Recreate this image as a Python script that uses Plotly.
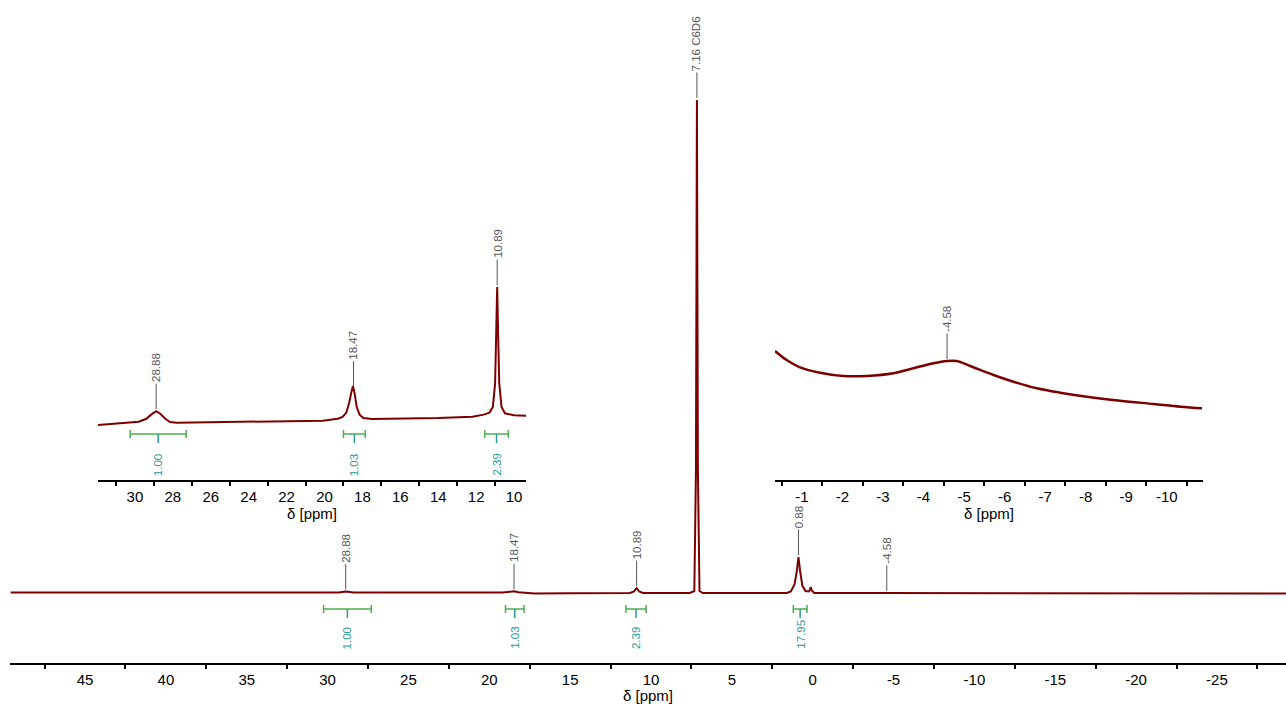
import numpy as np
import plotly.graph_objects as go

W, H = 1286, 704

# ---------------- data ----------------
# main 1H spectrum (ppm, intensity; C6D6 peak = 100)
main_ppm = [49.6, 30.5, 29.3, 28.88, 28.4, 19.2, 18.7, 18.47, 18.2, 17.8, 17.2, 15.0,
            11.3, 11.05, 10.89, 10.73, 10.5, 7.6, 7.32, 7.22, 7.16, 7.10, 7.0, 6.8,
            1.6, 1.35, 1.24, 1.12, 0.98, 0.88, 0.78, 0.64, 0.45, 0.25, 0.18, 0.12,
            0.06, -0.1, -4.58, -29.3]
main_int = [0.1, 0.1, 0.1, 0.3, 0.1, 0.1, 0.2, 0.35, 0.15, 0.0, -0.12, -0.05,
            0.0, 0.3, 1.0, 0.3, 0.0, 0.0, 0.4, 25.0, 100.0, 25.0, 0.4, 0.0,
            0.0, 0.3, 1.0, 1.8, 4.5, 7.3, 4.5, 1.5, 0.4, 0.3, 0.6, 1.2,
            0.5, 0.0, 0.0, -0.1]

# inset 1: 31.9 .. 9.4 ppm (expanded)
inset1_ppm = [31.95, 30.8, 30.2, 29.8, 29.4, 29.15, 28.88, 28.65, 28.4, 28.15, 27.8,
              24.0, 20.1, 19.3, 19.05, 18.85, 18.7, 18.58, 18.5, 18.4, 18.3, 18.15,
              17.95, 17.5, 14.0, 12.2, 11.6, 11.3, 11.12, 11.0, 10.94, 10.89, 10.84,
              10.78, 10.66, 10.48, 10.0, 9.37]
inset1_int = [0.0, 0.01, 0.017, 0.024, 0.045, 0.075, 0.10, 0.08, 0.045, 0.022, 0.017,
              0.022, 0.031, 0.045, 0.058, 0.09, 0.16, 0.24, 0.283, 0.22, 0.13, 0.075,
              0.05, 0.043, 0.05, 0.06, 0.075, 0.09, 0.13, 0.3, 0.65, 1.0, 0.65,
              0.3, 0.13, 0.085, 0.07, 0.067]

# inset 2: -0.3 .. -10.9 ppm (expanded, broad hump)
inset2_ppm = [-0.335, -0.623, -0.952, -1.446, -2.021, -2.599, -3.256, -3.749, -4.243,
              -4.574, -4.821, -5.149, -5.725, -6.219, -6.796, -7.372, -8.031, -8.853,
              -9.675, -10.335, -10.87]
inset2_int = [1.29, 1.20, 1.127, 1.073, 1.04, 1.04, 1.067, 1.117, 1.167,
              1.19, 1.19, 1.14, 1.05, 0.983, 0.917, 0.873, 0.833, 0.793,
              0.76, 0.733, 0.717]

main_ticks = [45, 40, 35, 30, 25, 20, 15, 10, 5, 0, -5, -10, -15, -20, -25]
inset1_ticks = [30, 28, 26, 24, 22, 20, 18, 16, 14, 12, 10]
inset2_ticks = [-1, -2, -3, -4, -5, -6, -7, -8, -9, -10]

main_peak_ppm = [28.88, 18.47, 10.89, 7.16, 0.88, -4.58]
main_peak_txt = ["28.88", "18.47", "10.89", "7.16 C6D6", "0.88", "-4.58"]
inset1_peak_ppm = [28.88, 18.47, 10.89]
inset1_peak_txt = ["28.88", "18.47", "10.89"]
inset2_peak_ppm = [-4.58]
inset2_peak_txt = ["-4.58"]

integral_from = [30.25, 19.0, 11.55, 1.2]
integral_to = [27.3, 17.85, 10.3, 0.35]
integral_val = ["1.00", "1.03", "2.39", "17.95"]

# ---------------- style ----------------
RED = "#7d0000"
PEAKC = "#555555"
INTC = "#2b9a9a"
BRC = "#4caf50"
FONT = "Liberation Sans, Arial, Helvetica, sans-serif"


def fx(px):
    return px / W


def fy(py):
    return 1 - py / H


def tw(s, size=11.5):
    wd = {".": 0.278, "-": 0.333, " ": 0.278, "C": 0.722, "D": 0.722}
    return sum(wd.get(c, 0.556) for c in s) * size


fig = go.Figure()
fig.add_trace(go.Scatter(x=main_ppm, y=main_int, mode="lines",
                         line=dict(color=RED, width=2), xaxis="x", yaxis="y",
                         hoverinfo="skip"))
fig.add_trace(go.Scatter(x=inset1_ppm, y=inset1_int, mode="lines",
                         line=dict(color=RED, width=2), xaxis="x2", yaxis="y2",
                         hoverinfo="skip"))
fig.add_trace(go.Scatter(x=inset2_ppm, y=inset2_int, mode="lines",
                         line=dict(color=RED, width=2.5, shape="spline"),
                         xaxis="x3", yaxis="y3", hoverinfo="skip"))

annotations = []
shapes = []

LEADER = 27
STANDOFF = 2


def peak_labels(ppms, txts, xs, ys, xr, yr):
    xp = np.array(xs)[::-1]
    fp = np.array(ys)[::-1]
    for p, t in zip(ppms, txts):
        yv = float(np.interp(p, xp, fp))
        annotations.append(dict(
            x=p, y=yv, xref=xr, yref=yr, text=t, textangle=-90,
            showarrow=True, arrowhead=0, arrowwidth=1, arrowcolor="#555555",
            ax=0, ay=-(STANDOFF + LEADER + tw(t) / 2), axref="pixel", ayref="pixel",
            standoff=STANDOFF, font=dict(size=11.5, color=PEAKC, family=FONT)))


peak_labels(main_peak_ppm, main_peak_txt, main_ppm, main_int, "x", "y")
peak_labels(inset1_peak_ppm, inset1_peak_txt, inset1_ppm, inset1_int, "x2", "y2")
peak_labels(inset2_peak_ppm, inset2_peak_txt, inset2_ppm, inset2_int, "x3", "y3")


def integrals(n, xr, ybar, ylab):
    for a, b, v in list(zip(integral_from, integral_to, integral_val))[:n]:
        mid = (a + b) / 2
        shapes.append(dict(type="line", xref=xr, yref="paper", x0=a, x1=b,
                           y0=fy(ybar), y1=fy(ybar), line=dict(color=BRC, width=1.5)))
        for e in (a, b):
            shapes.append(dict(type="line", xref=xr, yref="paper", x0=e, x1=e,
                               y0=fy(ybar - 4), y1=fy(ybar + 4),
                               line=dict(color=BRC, width=1.5)))
        shapes.append(dict(type="line", xref=xr, yref="paper", x0=mid, x1=mid,
                           y0=fy(ybar), y1=fy(ybar + 9), line=dict(color=INTC, width=1.5)))
        annotations.append(dict(x=mid, y=fy(ylab), xref=xr, yref="paper", text=v,
                                textangle=-90, showarrow=False, yanchor="bottom",
                                xanchor="center",
                                font=dict(size=11.5, color=INTC, family=FONT)))


integrals(4, "x", 609, 651)
integrals(3, "x2", 434, 478)


def xaxis_style(domain, rng, ticks, minor_dtick, minor_tick0, anchor):
    return dict(domain=domain, range=rng, anchor=anchor, showgrid=False, zeroline=False,
                showline=True, linecolor="black", linewidth=2,
                tickmode="array", tickvals=ticks, ticktext=[f"{t:g}" for t in ticks],
                ticks="outside", ticklen=2, tickcolor="rgba(0,0,0,0)",
                tickfont=dict(size=15, color="black", family=FONT),
                minor=dict(ticks="outside", ticklen=4, tickwidth=1.5, tickcolor="black",
                           dtick=minor_dtick, tick0=minor_tick0, showgrid=False),
                title=dict(text="δ [ppm]", standoff=0,
                           font=dict(size=15, color="black", family=FONT)),
                automargin=False, fixedrange=True)


hidden_y = dict(visible=False, showgrid=False, zeroline=False, fixedrange=True)

fig.update_layout(
    width=W, height=H,
    margin=dict(l=0, r=0, t=0, b=0),
    paper_bgcolor="white", plot_bgcolor="rgba(0,0,0,0)",
    showlegend=False, hovermode=False,
    xaxis=xaxis_style([fx(10), 1], [49.64, -29.27], main_ticks, 5, 2.5, "y"),
    yaxis=dict(domain=[fy(663), 1], range=[-14.2, 120.28], **hidden_y),
    xaxis2=xaxis_style([fx(98), fx(526)], [31.95, 9.37], inset1_ticks, 2, 1, "y2"),
    yaxis2=dict(domain=[fy(480), fy(230)], range=[-(480 - 425) / 138, (425 - 230) / 138],
                anchor="x2", **hidden_y),
    xaxis3=xaxis_style([fx(775), fx(1203)], [-0.335, -10.895], inset2_ticks, 1, 0.5, "y3"),
    yaxis3=dict(domain=[fy(480), fy(230)], range=[0, 2.5], anchor="x3", **hidden_y),
    annotations=annotations,
    shapes=shapes,
    font=dict(family=FONT),
)

fig.write_html("out.html")
